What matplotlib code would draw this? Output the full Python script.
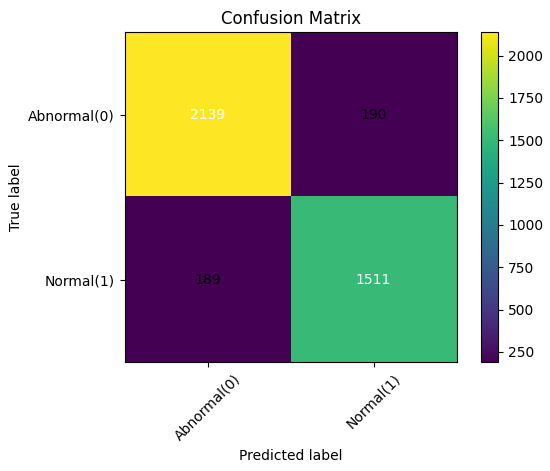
import numpy as np
import matplotlib
matplotlib.use("Agg")
import matplotlib.pyplot as plt

classes = ["Abnormal(0)", "Normal(1)"]
row_abnormal = [2139, 190]
row_normal = [189, 1511]

cm = np.array([row_abnormal, row_normal])

fig = plt.figure(figsize=(5.5, 4.71), dpi=100)
ax = fig.add_axes([0.227, 0.231, 0.603, 0.701])
cax = fig.add_axes([0.875, 0.231, 0.031, 0.701])

im = ax.imshow(cm, interpolation="nearest", cmap="viridis", aspect="auto")
ax.set_title("Confusion Matrix")
fig.colorbar(im, cax=cax)

tick_marks = np.arange(len(classes))
ax.set_xticks(tick_marks)
ax.set_xticklabels(classes, rotation=45)
ax.set_yticks(tick_marks)
ax.set_yticklabels(classes)

thresh = cm.max() / 2.0
for i in range(cm.shape[0]):
    for j in range(cm.shape[1]):
        ax.text(j, i, format(cm[i, j], "d"),
                ha="center", va="center",
                color="white" if cm[i, j] > thresh else "black")

ax.set_ylabel("True label")
ax.set_xlabel("Predicted label")

fig.savefig("out.png", dpi=100)
